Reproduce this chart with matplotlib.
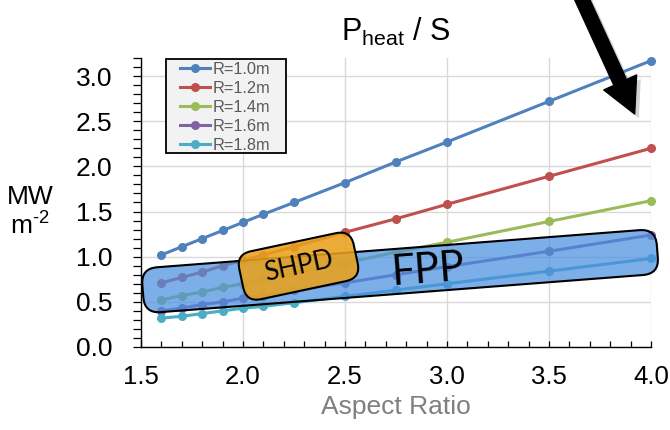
import matplotlib
matplotlib.use('Agg')
import matplotlib.pyplot as plt
from matplotlib.patches import FancyBboxPatch, FancyArrowPatch, Rectangle
from matplotlib.transforms import Affine2D
from matplotlib.ticker import MultipleLocator, FormatStrFormatter
from matplotlib.colors import to_rgba
from matplotlib.lines import Line2D
from matplotlib.legend_handler import HandlerLine2D
import matplotlib.patheffects as pe

plt.rcParams['font.family'] = ['Liberation Sans', 'DejaVu Sans']
plt.rcParams['mathtext.fontset'] = 'custom'
plt.rcParams['mathtext.rm'] = 'Liberation Sans'
plt.rcParams['mathtext.it'] = 'Liberation Sans:italic'

# ---------------- data ----------------
aspect_ratio = [1.6, 1.7, 1.8, 1.9, 2.0, 2.1, 2.25, 2.5, 2.75, 3.0, 3.5, 4.0]
series_labels = ['R=1.0m', 'R=1.2m', 'R=1.4m', 'R=1.6m', 'R=1.8m']
p_r10 = [1.02, 1.11, 1.20, 1.29, 1.38, 1.47, 1.60, 1.82, 2.05, 2.27, 2.72, 3.17]
p_r12 = [0.71, 0.77, 0.83, 0.90, 0.96, 1.02, 1.11, 1.27, 1.42, 1.58, 1.89, 2.20]
p_r14 = [0.52, 0.57, 0.61, 0.66, 0.70, 0.75, 0.82, 0.93, 1.05, 1.16, 1.39, 1.62]
p_r16 = [0.40, 0.43, 0.47, 0.50, 0.54, 0.57, 0.63, 0.71, 0.80, 0.89, 1.06, 1.24]
p_r18 = [0.32, 0.34, 0.37, 0.40, 0.43, 0.45, 0.49, 0.56, 0.63, 0.70, 0.84, 0.98]
series_values = [p_r10, p_r12, p_r14, p_r16, p_r18]
series_colors = ['#4F81BD', '#C0504D', '#9BBB59', '#8064A2', '#4BACC6']

x_ticks = [1.5, 2.0, 2.5, 3.0, 3.5, 4.0]
y_ticks = [0.0, 0.5, 1.0, 1.5, 2.0, 2.5, 3.0]

# annotation anchors (data coordinates)
fpp_center = (2.77, 0.84)
fpp_text_pos = (2.905, 0.85)
shpd_center = (2.272, 0.895)
arrow_tail = (3.652, 3.90)
arrow_tip = (3.920, 2.58)

# ---------------- figure ----------------
fig = plt.figure(figsize=(6.7, 4.3), dpi=100)
ax = fig.add_axes([141 / 670, 83 / 430, 510 / 670, 289 / 430])

for vals, lab, col in zip(series_values, series_labels, series_colors):
    ax.plot(aspect_ratio, vals, '-o', color=col, lw=2.2, ms=5.5,
            label=lab, clip_on=False, zorder=2)

ax.set_xlim(1.5, 4.0)
ax.set_ylim(0.0, 3.2)
ax.set_xticks(x_ticks)
ax.set_yticks(y_ticks)
ax.xaxis.set_major_formatter(FormatStrFormatter('%.1f'))
ax.yaxis.set_major_formatter(FormatStrFormatter('%.1f'))
ax.xaxis.set_minor_locator(MultipleLocator(0.1))
ax.yaxis.set_minor_locator(MultipleLocator(0.1))

ax.grid(True, which='major', color='#D9D9D9', lw=1.0, zorder=0)
ax.set_axisbelow(True)
for s in ['top', 'right']:
    ax.spines[s].set_visible(False)
for s in ['left', 'bottom']:
    ax.spines[s].set_color('black')
    ax.spines[s].set_linewidth(1.0)

ax.tick_params(axis='y', which='both', direction='out', length=5.5, width=0.9,
               labelsize=19, pad=15)
ax.tick_params(axis='x', which='both', direction='in', length=4, width=0.9,
               labelsize=18.5, pad=13)

ax.set_title(r'$\mathrm{P_{heat}}$ / S', fontsize=22, pad=12)
ax.set_xlabel('Aspect Ratio', fontsize=19, color='#7F7F7F', labelpad=4)
ax.set_ylabel('MW\nm$^{\\text{-2}}$', fontsize=19, rotation=0, ha='center',
              va='center', multialignment='center', linespacing=1.15)
ax.yaxis.set_label_coords(-0.218, 0.465)

# legend frame drawn separately (wider horizontal padding than matplotlib's)
ax.add_artist(Rectangle((0.049, 0.672), 0.236, 0.325, transform=ax.transAxes,
                        facecolor='#F2F2F2', edgecolor='black', lw=1.3,
                        zorder=4.9, clip_on=False))
leg = ax.legend(loc='upper left', bbox_to_anchor=(0.052, 0.987), fontsize=11.8,
                frameon=False, handlelength=2.6, handletextpad=0.15,
                labelspacing=0.25, borderpad=0.0, borderaxespad=0,
                handler_map={Line2D: HandlerLine2D(xpad=0.75)})
leg.set_zorder(5)
for t in leg.get_texts():
    t.set_color('#595959')


def rotated_box(center, length, thickness, angle, radius, color, alpha, z):
    cx, cy = ax.transData.transform(center)
    box = FancyBboxPatch((cx - length / 2, cy - thickness / 2), length, thickness,
                         boxstyle=f'round,pad=0,rounding_size={radius}',
                         transform=Affine2D().rotate_deg_around(cx, cy, angle),
                         facecolor=to_rgba(color, alpha), edgecolor='black',
                         lw=1.5, zorder=z, clip_on=False)
    ax.add_artist(box)
    return box


rotated_box(fpp_center, 516, 45, 4.4, 16, '#4A8FE0', 0.72, 3)
rotated_box(shpd_center, 117, 49, 12, 15, '#E9A21C', 0.88, 4)

ax.text(*fpp_text_pos, 'FPP', rotation=4.4, rotation_mode='anchor',
        ha='center', va='center', fontsize=30, family=['Lato', 'DejaVu Sans'],
        color='black', zorder=5, clip_on=False)
ax.text(*shpd_center, 'SHPD', rotation=12, rotation_mode='anchor',
        ha='center', va='center', fontsize=19, family=['Lato', 'DejaVu Sans'],
        color='black', zorder=5, clip_on=False)

arrow = FancyArrowPatch(posA=arrow_tail, posB=arrow_tip,
                        arrowstyle='simple,head_length=25,head_width=26,tail_width=10',
                        mutation_scale=1, color='black', transform=ax.transData,
                        clip_on=False, zorder=6, shrinkA=0, shrinkB=0)
arrow.set_path_effects([pe.SimplePatchShadow(offset=(3, -3), shadow_rgbFace='gray',
                                             alpha=0.35), pe.Normal()])
ax.add_artist(arrow)

fig.savefig('out.png', dpi=100)
